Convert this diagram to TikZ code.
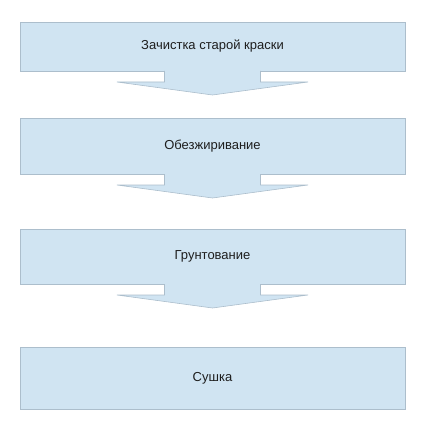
\documentclass[tikz,border=0pt]{standalone}
\usepackage{fontspec}
\setmainfont{Liberation Sans}
\usetikzlibrary{positioning}
\definecolor{stepfill}{RGB}{208,228,242}
\definecolor{stepline}{RGB}{172,190,204}
\definecolor{steptext}{RGB}{30,30,30}
\tikzset{x=1pt, y=1pt, node distance=47pt, font=\fontsize{13}{13}\selectfont}
\tikzstyle{stepbox} = [draw=stepline, fill=stepfill, line width=0.6pt, rectangle, minimum width=385pt, outer sep=0pt, text=steptext, align=center]
\tikzstyle{flowfill} = [fill=stepfill]
\tikzstyle{flowline} = [draw=stepline, line width=0.6pt, line join=miter]

\begin{document}
\begin{tikzpicture}
    \useasboundingbox (0,0) rectangle (424,-433);
    \node [stepbox, minimum height=49pt] (strip) at (212.5,-46.5) {Зачистка старой краски};
    \node [stepbox, minimum height=56pt, below=47pt of strip] (degrease) {Обезжиривание};
    \node [stepbox, minimum height=55pt, below=55pt of degrease] (prime) {Грунтование};
    \node [stepbox, minimum height=62pt, below=63pt of prime] (dry) {Сушка};

    % broad arrows under the first three steps
    \foreach \b in {strip,degrease,prime} {
        \fill [flowfill] ([xshift=-48pt,yshift=0.6pt]\b.south) -- ++(0,-11.6) -- ++(-47.5,0)
            -- ([yshift=-24pt]\b.south) -- ([xshift=95.5pt,yshift=-11pt]\b.south)
            -- ([xshift=48pt,yshift=-11pt]\b.south) -- ([xshift=48pt,yshift=0.6pt]\b.south) -- cycle;
        \draw [flowline] ([xshift=-48pt]\b.south) -- ++(0,-11) -- ++(-47.5,0)
            -- ([yshift=-24pt]\b.south) -- ([xshift=95.5pt,yshift=-11pt]\b.south)
            -- ([xshift=48pt,yshift=-11pt]\b.south) -- ([xshift=48pt]\b.south);
    }
\end{tikzpicture}
\end{document}
